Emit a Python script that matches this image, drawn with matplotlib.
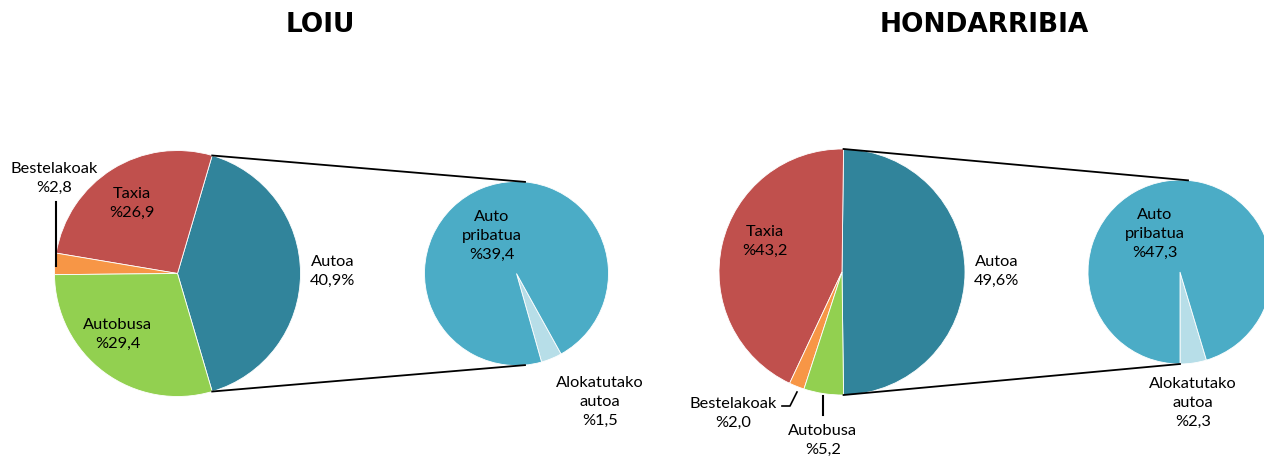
import numpy as np
import matplotlib.pyplot as plt

plt.rcParams['font.family'] = ['Lato', 'DejaVu Sans']

W, H = 1264, 457

# datuak
titles = ['LOIU', 'HONDARRIBIA']
main_labels = ['Autoa', 'Taxia', 'Bestelakoak', 'Autobusa']
main_loiu = [40.9, 26.9, 2.8, 29.4]
main_hond = [49.6, 43.2, 2.0, 5.2]
sub_labels = ['Alokatutako autoa', 'Auto pribatua']
sub_loiu = [1.5, 39.4]
sub_hond = [2.3, 47.3]

main_colors = ['#31849B', '#C0504D', '#F79646', '#92D050']
sub_colors = ['#B7DEE8', '#4BACC6']

fig = plt.figure(figsize=(W / 100, H / 100), dpi=100)
ax = fig.add_axes([0, 0, 1, 1])


def fmt(v):
    return ('%.1f' % v).replace('.', ',')


def pt(cx, cy, r, ang):
    a = np.deg2rad(ang)
    return cx + r * np.cos(a), cy + r * np.sin(a)


def draw(vals, subvals, c_main, r_main, c_sub, r_sub, sub_start, sub_angs):
    # pixel koordenatuak -> ardatzak (y gora)
    cm = (c_main[0], H - c_main[1])
    cs = (c_sub[0], H - c_sub[1])
    start = -vals[0] * 360 / 200
    ax.pie(vals, colors=main_colors, startangle=start, counterclock=True,
           center=cm, radius=r_main, frame=True,
           wedgeprops=dict(edgecolor='white', linewidth=0.6))
    ax.pie(subvals, colors=sub_colors, startangle=sub_start, counterclock=True,
           center=cs, radius=r_sub, frame=True,
           wedgeprops=dict(edgecolor='white', linewidth=0.6))
    # lotura lerroak
    half = vals[0] * 360 / 200
    p1 = pt(cm[0], cm[1], r_main, half)
    p2 = pt(cs[0], cs[1], r_sub, sub_angs[0])
    q1 = pt(cm[0], cm[1], r_main, -half)
    q2 = pt(cs[0], cs[1], r_sub, sub_angs[1])
    ax.plot([p1[0], p2[0]], [p1[1], p2[1]], color='black', lw=1.3)
    ax.plot([q1[0], q2[0]], [q1[1], q2[1]], color='black', lw=1.3)


draw(main_loiu, sub_loiu, (177.5, 273.5), 123, (516.5, 273.5), 92, -74.2, (84.7, -84.7))
draw(main_hond, sub_hond, (842, 272), 123, (1180, 272), 92, -90, (85, -90))

tk = dict(ha='center', va='center', fontsize=11.8, linespacing=1.45, color='black')


def lab(x, y, s):
    ax.text(x, H - y, s, **tk)


# LOIU
lab(333, 271, '%s\n%s%%' % (main_labels[0], fmt(main_loiu[0])))
lab(132, 203, '%s\n%%%s' % (main_labels[1], fmt(main_loiu[1])))
lab(54, 178, '%s\n%%%s' % (main_labels[2], fmt(main_loiu[2])))
lab(118, 334, '%s\n%%%s' % (main_labels[3], fmt(main_loiu[3])))
lab(492, 236, 'Auto\npribatua\n%%%s' % fmt(sub_loiu[1]))
lab(600, 402, 'Alokatutako\nautoa\n%%%s' % fmt(sub_loiu[0]))
ax.plot([56, 56], [H - 202, H - 266], color='black', lw=1.5)

# HONDARRIBIA
lab(997, 271, '%s\n%s%%' % (main_labels[0], fmt(main_hond[0])))
lab(765, 241, '%s\n%%%s' % (main_labels[1], fmt(main_hond[1])))
lab(733, 413, '%s\n%%%s' % (main_labels[2], fmt(main_hond[2])))
lab(823, 440, '%s\n%%%s' % (main_labels[3], fmt(main_hond[3])))
lab(1155, 234, 'Auto\npribatua\n%%%s' % fmt(sub_hond[1]))
lab(1193, 403, 'Alokatutako\nautoa\n%%%s' % fmt(sub_hond[0]))
ax.plot([782, 790, 797], [H - 406, H - 406, H - 392], color='black', lw=1.2)
ax.plot([823, 823], [H - 396, H - 415], color='black', lw=1.5)

ax.text(320, H - 25, titles[0], ha='center', va='center', fontsize=19,
        fontweight='bold', family='DejaVu Sans')
ax.text(984, H - 25, titles[1], ha='center', va='center', fontsize=19,
        fontweight='bold', family='DejaVu Sans')

ax.set_xlim(0, W)
ax.set_ylim(0, H)
ax.set_aspect('auto')
ax.axis('off')

fig.savefig('out.png', dpi=100)
